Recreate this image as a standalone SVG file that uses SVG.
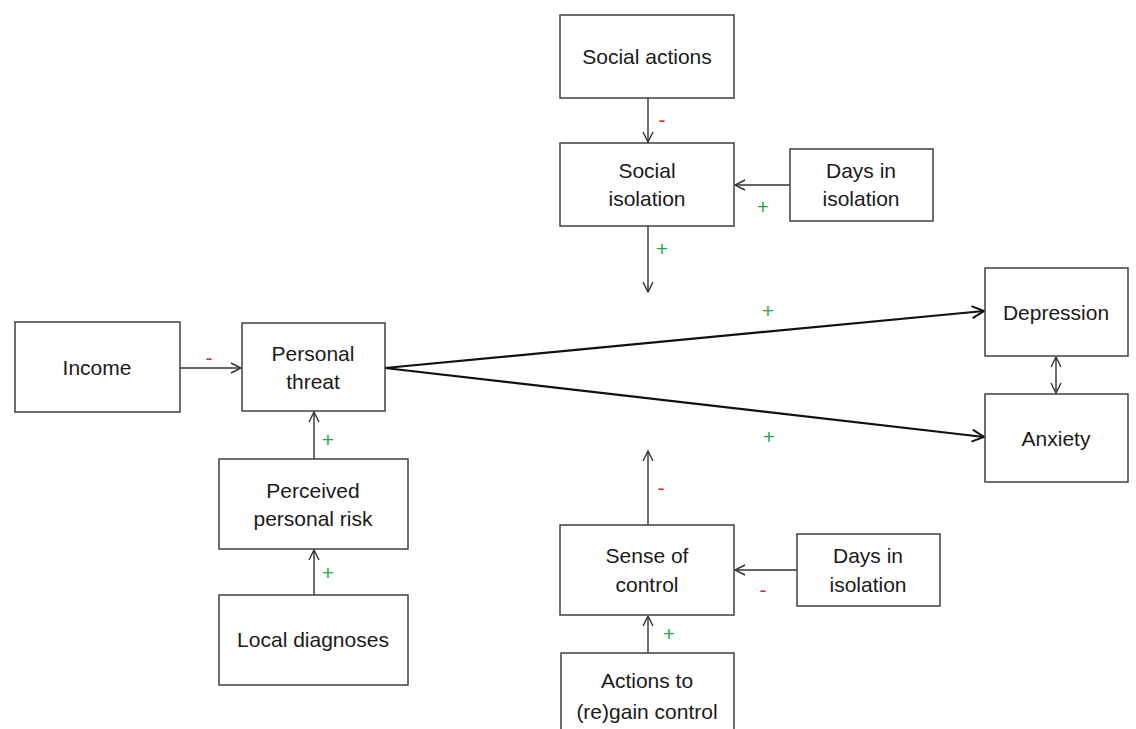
<svg xmlns="http://www.w3.org/2000/svg" width="1136" height="729" viewBox="0 0 1136 729">
<defs>
<marker id="open" viewBox="0 0 12 12" refX="11" refY="6" markerWidth="12" markerHeight="12" markerUnits="userSpaceOnUse" orient="auto-start-reverse">
<path d="M1,1 L11,6 L1,11" fill="none" stroke="#333" stroke-width="1.4"/>
</marker>
<marker id="bold" viewBox="0 0 14 14" refX="13" refY="7" markerWidth="14" markerHeight="14" markerUnits="userSpaceOnUse" orient="auto">
<path d="M1,1 L13,7 L1,13" fill="none" stroke="#111" stroke-width="2"/>
</marker>
</defs>
<style>
.box{fill:#fff;stroke:#404040;stroke-width:1.5}
.t{font-family:"Liberation Sans",Arial,sans-serif;font-size:21px;fill:#1a1a1a;text-anchor:middle}
.c{stroke:#333;stroke-width:1.4;fill:none;marker-end:url(#open)}
.b{stroke:#111;stroke-width:2.2;fill:none;marker-end:url(#bold)}
.pos{font-family:"Liberation Sans",Arial,sans-serif;font-size:21px;fill:#2aa84a;text-anchor:middle}
.neg{font-family:"Liberation Sans",Arial,sans-serif;font-size:21px;fill:#e02828;text-anchor:middle}
</style>
<rect width="1136" height="729" fill="#fff"/>
<g id="connectors">
<line class="c" x1="648" y1="98" x2="648" y2="142"/>
<line class="c" x1="790" y1="185" x2="735" y2="185"/>
<line class="c" x1="648" y1="226" x2="648" y2="292"/>
<line class="c" x1="180" y1="368" x2="241" y2="368"/>
<line class="c" x1="314" y1="459" x2="314" y2="412"/>
<line class="c" x1="314" y1="595" x2="314" y2="550"/>
<line class="c" x1="648" y1="525" x2="648" y2="451"/>
<line class="c" x1="797" y1="570" x2="735" y2="570"/>
<line class="c" x1="648" y1="653" x2="648" y2="616"/>
<line class="c" x1="1056" y1="357" x2="1056" y2="393" marker-start="url(#open)"/>
<line class="b" x1="385" y1="368" x2="984" y2="311"/>
<line class="b" x1="385" y1="368" x2="984" y2="437"/>
<text class="neg" x="662" y="127">-</text>
<text class="pos" x="763" y="214">+</text>
<text class="pos" x="662" y="256">+</text>
<text class="neg" x="209" y="365">-</text>
<text class="pos" x="328" y="447">+</text>
<text class="pos" x="328" y="580">+</text>
<text class="neg" x="661" y="495">-</text>
<text class="neg" x="763" y="597">-</text>
<text class="pos" x="669" y="641">+</text>
<text class="pos" x="768" y="318">+</text>
<text class="pos" x="769" y="444">+</text>
</g>
<g id="social-actions"><rect class="box" x="560" y="15" width="174" height="83"/><text class="t" x="647" y="64">Social actions</text></g>
<g id="social-isolation"><rect class="box" x="560" y="143" width="174" height="83"/><text class="t" x="647" y="178">Social</text><text class="t" x="647" y="206">isolation</text></g>
<g id="days-isolation-top"><rect class="box" x="790" y="149" width="143" height="72"/><text class="t" x="861" y="178">Days in</text><text class="t" x="861" y="206">isolation</text></g>
<g id="income"><rect class="box" x="15" y="322" width="165" height="90"/><text class="t" x="97" y="375">Income</text></g>
<g id="personal-threat"><rect class="box" x="242" y="323" width="143" height="88"/><text class="t" x="313" y="361">Personal</text><text class="t" x="313" y="389">threat</text></g>
<g id="perceived-risk"><rect class="box" x="219" y="459" width="189" height="90"/><text class="t" x="313" y="498">Perceived</text><text class="t" x="313" y="526">personal risk</text></g>
<g id="local-diagnoses"><rect class="box" x="219" y="595" width="189" height="90"/><text class="t" x="313" y="647">Local diagnoses</text></g>
<g id="depression"><rect class="box" x="985" y="268" width="143" height="88"/><text class="t" x="1056" y="320">Depression</text></g>
<g id="anxiety"><rect class="box" x="985" y="394" width="143" height="88"/><text class="t" x="1056" y="446">Anxiety</text></g>
<g id="sense-control"><rect class="box" x="560" y="525" width="174" height="90"/><text class="t" x="647" y="563">Sense of</text><text class="t" x="647" y="592">control</text></g>
<g id="days-isolation-bottom"><rect class="box" x="797" y="534" width="143" height="72"/><text class="t" x="868" y="563">Days in</text><text class="t" x="868" y="592">isolation</text></g>
<g id="actions-regain"><rect class="box" x="561" y="653" width="173" height="90"/><text class="t" x="647" y="688">Actions to</text><text class="t" x="647" y="719">(re)gain control</text></g>
</svg>
